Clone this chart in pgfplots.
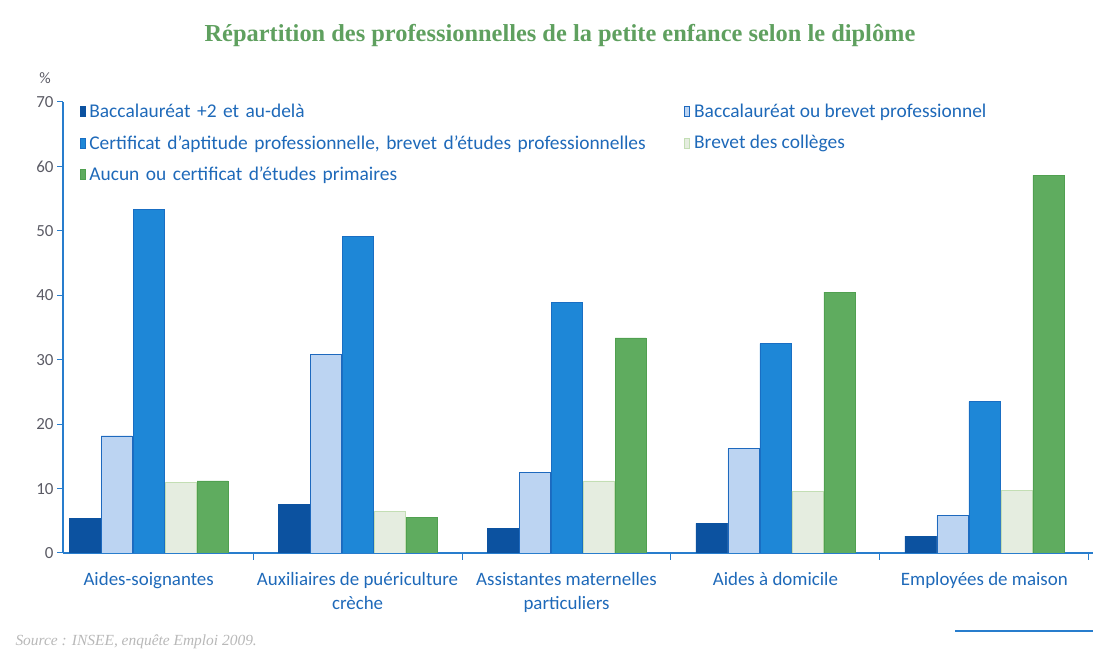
\documentclass[border=0pt]{standalone}
\usepackage{fontspec}
\setmainfont{Carlito}
\newfontfamily\titlefont{Liberation Serif}
\usepackage{pgfplots}
\pgfplotsset{compat=1.18}
\definecolor{cDark}{RGB}{12,82,160}
\definecolor{cLight}{RGB}{188,212,242}
\definecolor{cLightEdge}{RGB}{30,105,190}
\definecolor{cMid}{RGB}{30,135,215}
\definecolor{cMidEdge}{RGB}{25,110,195}
\definecolor{cPale}{RGB}{229,237,224}
\definecolor{cPaleEdge}{RGB}{195,222,180}
\definecolor{cGreen}{RGB}{95,172,95}
\definecolor{cGreenEdge}{RGB}{80,160,80}
\definecolor{cTitle}{RGB}{95,160,95}
\definecolor{cAxis}{RGB}{40,125,205}
\definecolor{cLabel}{RGB}{30,105,185}
\definecolor{cTick}{RGB}{90,90,100}
\begin{document}
\begin{tikzpicture}[x=1bp,y=1bp]
\useasboundingbox (0,0) rectangle (1096,655);
\node[font=\titlefont\bfseries\fontsize{24.5}{26}\selectfont, text=cTitle, anchor=base] at (560,613) {Répartition des professionnelles de la petite enfance selon le diplôme};
\node[font=\fontsize{16}{16}\selectfont, text=cTick] at (45,577) {\%};
\begin{axis}[
 at={(63bp,102bp)}, anchor=south west,
 scale only axis, width=1030bp, height=451bp,
 xmin=-0.41, xmax=4.52, ymin=0, ymax=70,
 axis lines*=left,
 axis line style={cAxis, line width=1.2bp},
 ybar=1bp, bar width=31bp,
 xtick={0,1,2,3,4},
 xticklabels={Aides-soignantes, {Auxiliaires de puériculture\\crèche}, {Assistantes maternelles\\particuliers}, Aides à domicile, Employées de maison},
 xticklabel style={align=center, font=\fontsize{19}{24}\selectfont, text=cLabel, yshift=-10bp},
 major x tick style={draw=none},
 minor xtick={0.5,1.5,2.5,3.5,4.5},
 minor tick length=7bp,
 minor x tick style={cAxis, line width=1bp},
 ytick={0,10,...,70},
 ytick style={cAxis, line width=1bp},
 major tick length=6bp,
 tick align=outside,
 yticklabel style={font=\fontsize{17}{17}\selectfont, text=cTick},
 /pgf/number format/assume math mode=true,
 legend columns=2,
 legend style={at={(0.013,1.004)}, anchor=north west, draw=none, fill=none,
   font=\fontsize{19.5}{19.5}\selectfont, text=cLabel,
   row sep=12bp, cells={anchor=west},
   /tikz/every odd column/.style={column sep=2bp},
   /tikz/column 2/.append style={text width=593bp}},
 legend image code/.code={\draw[#1, line width=0.8bp] (0bp,-5bp) rectangle (5bp,5bp);},
]
\addplot[fill=cDark, draw=cDark] coordinates {(0,5.4) (1,7.6) (2,3.8) (3,4.6) (4,2.6)};
\addplot[fill=cLight, draw=cLightEdge] coordinates {(0,18.2) (1,30.8) (2,12.5) (3,16.2) (4,5.8)};
\addplot[fill=cMid, draw=cMidEdge] coordinates {(0,53.3) (1,49.2) (2,38.9) (3,32.5) (4,23.5)};
\addplot[fill=cPale, draw=cPaleEdge] coordinates {(0,11.0) (1,6.5) (2,11.2) (3,9.6) (4,9.7)};
\addplot[fill=cGreen, draw=cGreenEdge] coordinates {(0,11.2) (1,5.5) (2,33.4) (3,40.5) (4,58.6)};
\legend{Baccalauréat +2 et au-delà, Baccalauréat ou brevet professionnel, {Certificat d'aptitude professionnelle, brevet d'études professionnelles}, Brevet des collèges, Aucun ou certificat d'études primaires}
\end{axis}
\node[font=\titlefont\itshape\fontsize{15.5}{15.5}\selectfont, text=black!28, anchor=base west] at (12,9) {Source : INSEE, enquête Emploi 2009.};
\draw[cAxis, line width=2bp] (955,24) -- (1093,24);
\end{tikzpicture}
\end{document}
